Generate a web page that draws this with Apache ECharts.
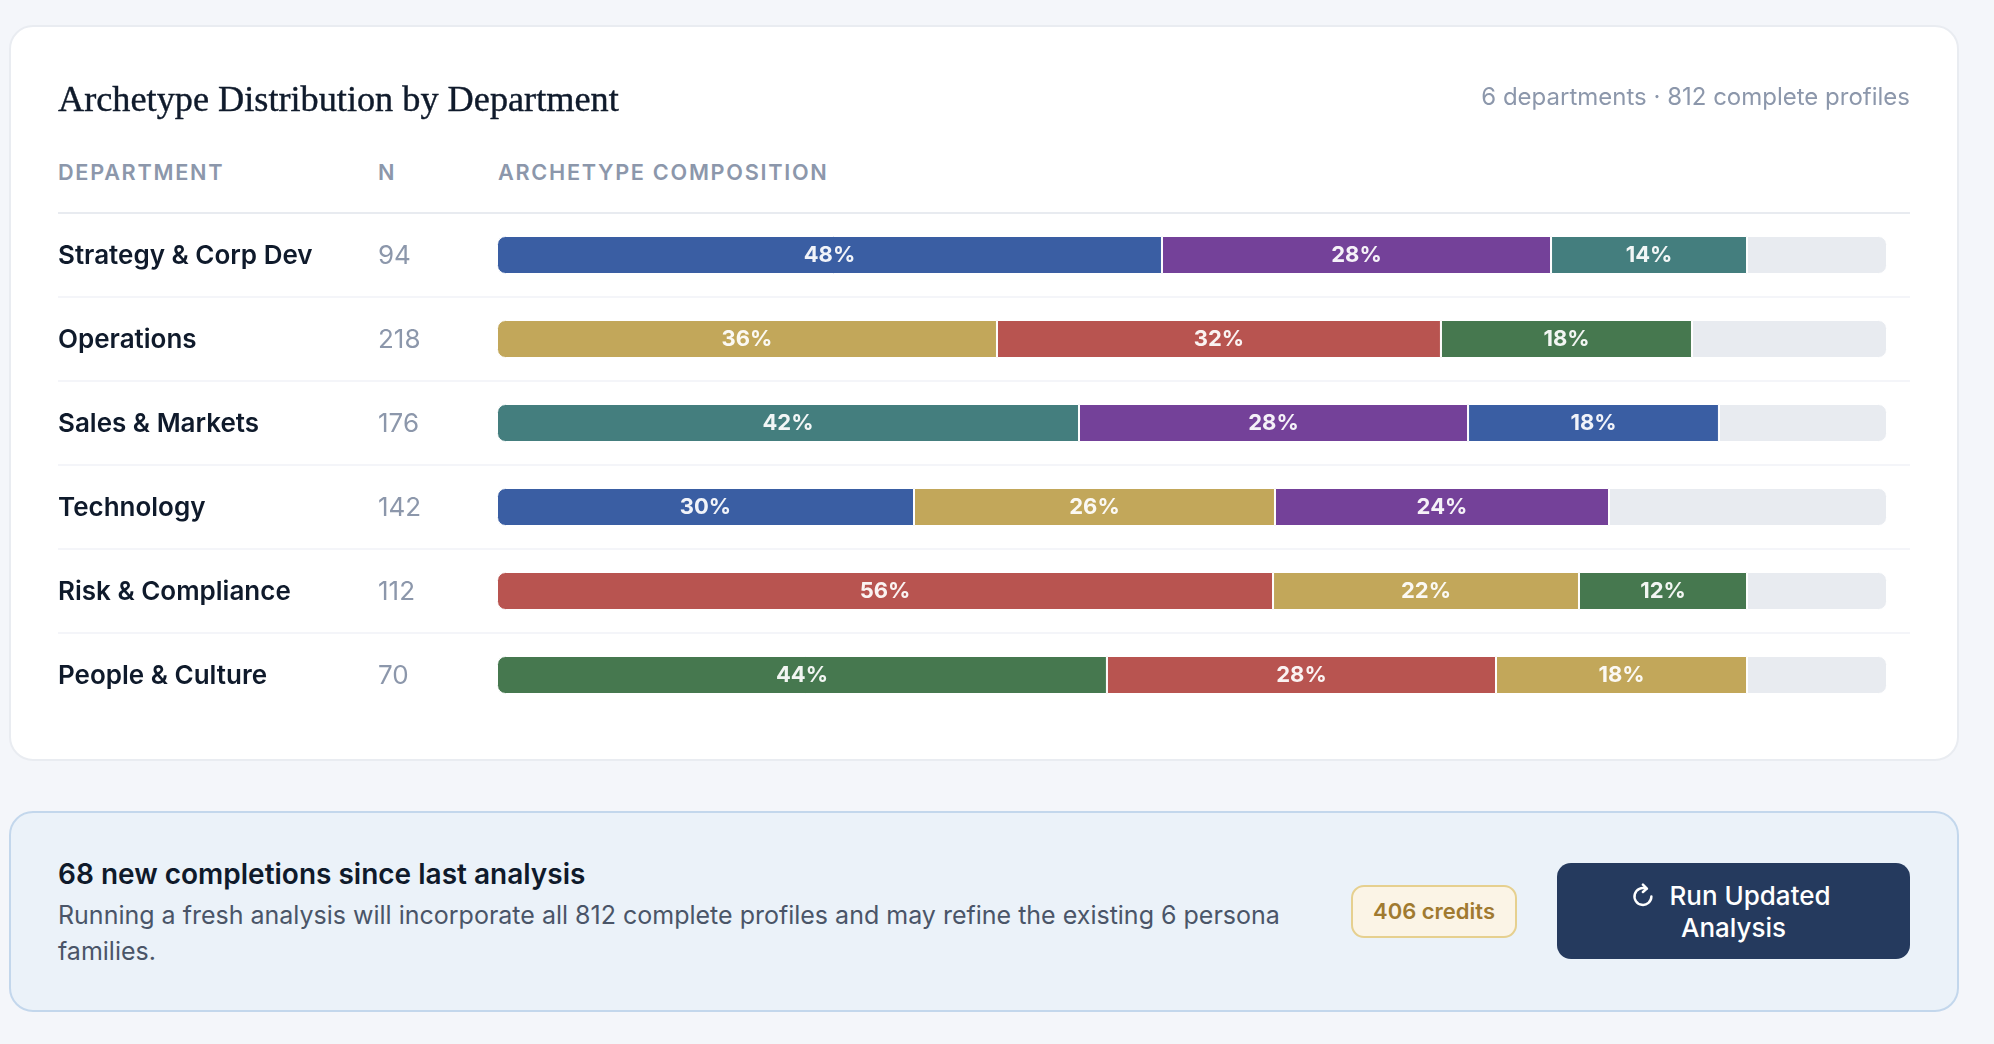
<!DOCTYPE html>
<html><head><meta charset="utf-8">
<script src="https://cdn.jsdelivr.net/npm/echarts@6/dist/echarts.min.js"></script>
<style>
html,body{margin:0;padding:0;width:1994px;height:1044px;background:#f4f6fa;overflow:hidden;font-family:Inter,sans-serif}
.abs{position:absolute;box-sizing:border-box}
.hd{font-weight:600;font-size:21.7px;letter-spacing:1.7px;color:#8c97ab;line-height:24px;top:160px;white-space:nowrap}
#chart{position:absolute;left:0;top:0;width:1994px;height:1044px}
</style></head><body>
<div class="abs" style="left:9px;top:25px;width:1950px;height:736px;background:#fff;border:2px solid #e9ecf1;border-radius:24px"></div>
<div class="abs" style="left:58px;top:212px;width:1852px;height:2px;background:#e8ebf0"></div>
<div id="seps"></div>
<div class="abs hd" style="left:58px">DEPARTMENT</div>
<div class="abs hd" style="left:378px">N</div>
<div class="abs hd" style="left:498px">ARCHETYPE COMPOSITION</div>
<div id="chart"></div>
<div class="abs" style="left:9px;top:811px;width:1950px;height:201px;background:#ebf2f9;border:2px solid #c3d7ec;border-radius:24px"></div>
<div class="abs" style="left:58px;top:856px;font-size:28px;font-weight:600;color:#0f1a2b;line-height:36px;white-space:nowrap">68 new completions since last analysis</div>
<div class="abs" style="left:58px;top:897px;width:1250px;font-size:25px;font-weight:400;color:#4a5568;line-height:36px">Running a fresh analysis will incorporate all 812 complete profiles and may refine the existing 6 persona families.</div>
<div class="abs" style="left:1351px;top:885px;width:166px;height:53px;background:#fbf4e6;border:2px solid #e6d08f;border-radius:13px;color:#a07a30;font-size:22px;font-weight:600;line-height:49px;text-align:center;white-space:nowrap">406 credits</div>
<div class="abs" style="left:1557px;top:863px;width:353px;height:96px;background:#253a5e;border-radius:14px;color:#fff;font-size:26px;font-weight:500;line-height:32px;text-align:center;padding-top:17px">
<svg width="27" height="27" viewBox="0 0 24 24" style="vertical-align:-5px;margin-left:-6px;margin-right:12px" fill="none" stroke="#fff" stroke-width="2.2" stroke-linecap="round" stroke-linejoin="round"><path d="M19 12a7.5 7.5 0 1 1-4.5-6.9"/><path d="M11.5 1.5 15 5l-3.5 3"/></svg>Run Updated<br>Analysis</div>
<script>
const departments=['Strategy & Corp Dev','Operations','Sales & Markets','Technology','Risk & Compliance','People & Culture'];
const counts=['94','218','176','142','112','70'];
const seg1=[47.84,35.97,41.87,30,55.83,43.88];
const seg2=[27.99,31.94,27.99,25.97,22.01,27.99];
const seg3=[14.1,18.06,18.05,24.03,12.09,18.06];
const rest=[10.07,14.03,12.09,20,10.07,10.07];
const blue='#3a5ea3',purple='#744199',teal='#447e7e',gold='#c2a75a',red='#b85450',green='#46784f';
const colors1=[blue,gold,teal,blue,red,green];
const colors2=[purple,red,purple,gold,gold,red];
const colors3=[teal,green,blue,purple,green,gold];

const seps=document.getElementById('seps');
for(let i=1;i<6;i++){const d=document.createElement('div');d.className='abs';d.style.cssText='left:58px;width:1852px;height:2px;background:#f4f5f9;top:'+(212+84*i)+'px';seps.appendChild(d);}

const chart=echarts.init(document.getElementById('chart'),null,{renderer:'canvas'});
const lab={show:true,position:'inside',offset:[0,0.6],color:'rgba(255,255,255,0.93)',fontFamily:'Inter',fontWeight:700,fontSize:22,
  formatter:p=>Math.round(p.value)+'%'};
function seg(name,vals,cols,radius){
  return {name,type:'bar',stack:'a',barWidth:38,silent:true,
    itemStyle:{borderColor:'#fff',borderWidth:1,borderRadius:radius},
    label:lab,
    data:vals.map((v,i)=>({value:v,itemStyle:{color:cols[i]}}))};
}
chart.setOption({
  animation:false,
  backgroundColor:'transparent',
  title:[
    {text:'Archetype Distribution by Department',left:58,top:83,padding:0,textStyle:{fontFamily:'"Liberation Serif"',fontSize:36.25,fontWeight:400,color:'#0f1a2b',textBorderColor:'#0f1a2b',textBorderWidth:0.4}},
    {text:'6 departments · 812 complete profiles',right:84,top:86,padding:0,textStyle:{fontFamily:'Inter',fontSize:24,fontWeight:400,color:'#8c97ab'}}
  ],
  grid:[
    {left:497,top:213,width:1390,height:504},
    {left:497,top:214,width:1390,height:504}
  ],
  xAxis:[
    {type:'value',gridIndex:0,min:0,max:100,show:false},
    {type:'value',gridIndex:1,min:0,max:100,show:false}
  ],
  yAxis:[
    {type:'category',gridIndex:0,inverse:true,data:departments,axisLine:{show:false},axisTick:{show:false},axisLabel:{show:false}},
    {type:'category',gridIndex:1,inverse:true,data:departments,axisLine:{show:false},axisTick:{show:false},
     axisLabel:{align:'left',margin:439,fontFamily:'Inter',fontWeight:600,fontSize:26,color:'#0f1a2b'}},
    {type:'category',gridIndex:1,inverse:true,position:'left',data:counts,axisLine:{show:false},axisTick:{show:false},
     axisLabel:{align:'left',margin:119,fontFamily:'Inter',fontWeight:400,fontSize:26,color:'#8c97ab'}}
  ],
  series:[
    seg('Segment 1',seg1,colors1,[8,0,0,8]),
    seg('Segment 2',seg2,colors2,0),
    seg('Segment 3',seg3,colors3,0),
    {name:'Remainder',type:'bar',stack:'a',barWidth:38,silent:true,
     itemStyle:{color:'#e8ebf0',borderColor:'#fff',borderWidth:1,borderRadius:[0,8,8,0]},
     data:rest}
  ]
});
</script></body></html>
